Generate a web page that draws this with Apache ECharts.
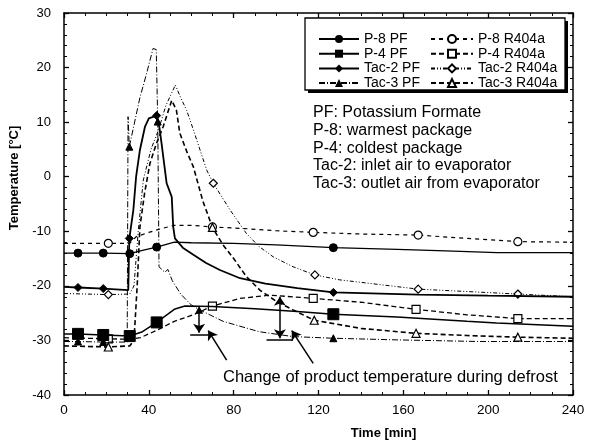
<!DOCTYPE html>
<html>
<head>
<meta charset="utf-8">
<script src="https://cdn.jsdelivr.net/npm/echarts@6/dist/echarts.min.js"></script>
<style>html,body{margin:0;padding:0;background:#fff}#c{width:590px;height:442px}</style>
</head>
<body>
<div id="c"></div>
<script>
// [time(min), temperature(°C), marker shown (1/0)]
const p8PF = [[0,-14,0],[6.6,-14,1],[18.5,-14,1],[31,-14.1,1],[37,-13.5,0],[43.7,-12.9,1],[52,-12,0],[60,-12.1,0],[80,-12.2,0],[100,-12.5,0],[127,-13,1],[157,-13.3,0],[180,-13.6,0],[204,-13.9,0],[240,-13.9,0]];
const p4PF = [[0,-28.8,0],[6.6,-28.8,1],[18.5,-29,1],[31,-29.2,1],[37,-28.4,0],[43.7,-26.7,1],[52,-24.3,0],[57,-23.7,0],[70,-23.8,0],[90,-24.2,0],[110,-24.7,0],[127,-25.2,1],[157,-25.7,0],[190,-26.5,0],[204,-26.8,0],[240,-27.4,0]];
const tac2PF = [[0,-20.2,0],[6.6,-20.3,1],[18.5,-20.5,1],[30.3,-20.8,0],[30.8,-11.3,1],[32.7,-6.1,0],[34,0,0],[35.8,4.9,0],[38.2,9.2,0],[40,10.7,0],[43.7,11.2,1],[45,9,0],[46,6.1,0],[48.4,-1.2,0],[50.8,-3.7,0],[51.5,-9.2,0],[52.3,-11.3,0],[56,-13,0],[61,-14.3,0],[67,-15.8,0],[73.5,-17.1,0],[83,-18.6,0],[95,-19.6,0],[110,-20.4,0],[127,-21.2,1],[167,-21.6,0],[200,-21.8,0],[240,-22,0]];
const tac3PF = [[0,-30.2,0],[6.6,-30.2,1],[18.5,-30.3,1],[29.8,-30.3,0],[30.2,11,0],[30.8,5.5,1],[35.8,14.5,0],[39,19,0],[42,23.5,0],[43.5,23.3,0],[44.2,10.1,1],[44.8,-16.5,0],[47.5,-17.5,0],[49,-17,0],[51,-19,0],[55,-21.5,0],[60,-23.5,0],[64,-24.4,0],[75,-26.5,0],[92,-28.4,0],[108,-29.3,0],[127,-29.6,1],[157,-29.9,0],[196,-30.2,0],[240,-30.2,0]];
const p8R = [[0,-12.2,0],[20.9,-12.2,1],[31,-12.2,0],[34,-11,0],[40,-10.2,0],[46,-9.5,0],[52,-8.9,0],[60,-8.9,0],[70,-9.2,1],[85,-9.5,0],[100,-9.9,0],[117.5,-10.2,1],[140,-10.5,0],[167,-10.7,1],[190,-11.3,0],[214,-11.9,1],[240,-12,0]];
const p4R = [[0,-29.5,0],[20.9,-29.7,1],[31,-29.8,0],[36,-29.5,0],[44,-28.1,0],[52,-26.5,0],[61,-25.3,0],[70,-23.7,1],[83,-22.3,0],[97,-21.7,0],[117.5,-22.3,1],[140,-23,0],[166,-24.3,1],[190,-25.3,0],[214,-26,1],[240,-26,0]];
const tac2R = [[0,-21.4,0],[20.9,-21.6,1],[31,-21.5,0],[33,-20,0],[35,-10,0],[37.4,-0.6,0],[41,5,0],[44.5,8.5,0],[48,13,0],[52.5,16.8,0],[55,14.5,0],[57.8,12.2,0],[61,8.6,0],[67.3,1.2,0],[70.4,-1.2,1],[78.3,-6.1,0],[86,-10.4,0],[92,-12.8,0],[98.7,-14.7,0],[108,-16.5,0],[118.3,-18,1],[130,-18.9,0],[167,-20.6,1],[214,-21.5,1],[240,-22,0]];
const tac3R = [[0,-31,0],[20.9,-31.2,1],[31,-31,0],[33,-30,0],[34.5,-20,0],[35.8,-9.2,0],[38,-3,0],[40.5,2.4,0],[43.5,6,0],[46.8,9.2,0],[50.8,14,0],[53,12.2,0],[54.6,8,0],[58,4.5,0],[61,1.8,0],[65.5,-4.5,0],[70,-9.3,1],[75,-12.5,0],[80,-15,0],[86,-18.3,0],[92.4,-20.8,0],[100,-22.8,0],[108,-24.4,0],[118,-26.3,1],[140,-27.8,0],[166,-28.7,1],[190,-29.1,0],[214,-29.4,1],[240,-29.6,0]];

const xTicks = {min:0, max:240, interval:40};
const yTicks = {min:-40, max:30, interval:10};
const names = ['P-8 PF','P-4 PF','Tac-2 PF','Tac-3 PF','P-8 R404a','P-4 R404a','Tac-2 R404a','Tac-3 R404a'];
const infoLines = ['PF: Potassium Formate','P-8: warmest package','P-4: coldest package','Tac-2: inlet air to evaporator','Tac-3: outlet air from evaporator'];
const noteText = 'Change of product temperature during defrost';

const FONT = '"Liberation Sans", Arial, sans-serif';
const chart = echarts.init(document.getElementById('c'), null, {renderer:'canvas'});

function mk(arr){ return arr.map(p => p[2] ? {value:[p[0],p[1]]} : {value:[p[0],p[1]], symbol:'none'}); }
function ser(name, arr, symbol, size, filled, lineType, width){
  return {
    name, type:'line', data: mk(arr), symbol, symbolSize:size, showAllSymbol:true,
    lineStyle:{color:'#000', width, type: lineType},
    itemStyle: filled ? {color:'#000', borderColor:'#000'} : {color:'#fff', borderColor:'#000', borderWidth:1.2},
    z: filled ? 3 : 2, animation:false
  };
}
const series = [
  ser(names[0], p8PF, 'circle', 8, true, 'solid', 1.3),
  ser(names[1], p4PF, 'rect', 11, true, 'solid', 1.5),
  ser(names[2], tac2PF, 'diamond', 8, true, 'solid', 1.8),
  ser(names[3], tac3PF, 'triangle', 7, true, [6,2,1,2], 1),
  ser(names[4], p8R, 'circle', 8, false, [4,4], 1.2),
  ser(names[5], p4R, 'rect', 8, false, [5,3], 1.3),
  ser(names[6], tac2R, 'diamond', 8, false, [4,2,1,2,1,2], 1),
  ser(names[7], tac3R, 'triangle', 8, false, [5,3], 1.6)
];
series.push({
  name:'annot', type:'line', data:[], silent:true, animation:false,
  markLine:{
    silent:true, animation:false, label:{show:false},
    lineStyle:{color:'#000', width:1.5, type:'solid'},
    data:[
      [{coord:[63.7,-24.4], symbol:'triangle', symbolSize:8},{coord:[63.7,-28.6], symbol:'arrow', symbolSize:9}],
      [{coord:[59.5,-28.9], symbol:'none'},{coord:[68,-28.9], symbol:'none'}],
      [{coord:[101.8,-22], symbol:'arrow', symbolSize:9},{coord:[101.8,-29.6], symbol:'arrow', symbolSize:9}],
      [{coord:[95.5,-29.9], symbol:'none'},{coord:[108,-29.9], symbol:'none'}],
      [{coord:[76.7,-33.6], symbol:'none'},{coord:[68,-28.2], symbol:'arrow', symbolSize:9}],
      [{coord:[117.5,-34.2], symbol:'none'},{coord:[107.4,-28.2], symbol:'arrow', symbolSize:9}]
    ]
  }
});

function axisStyle(split){
  return {
    axisLine:{show:true, onZero:false, lineStyle:{color:'#000', width:1.5}},
    axisTick:{show:true, inside:true, length:5, lineStyle:{color:'#000', width:1.3}},
    minorTick:{show:true, splitNumber:split, length:3, lineStyle:{color:'#000', width:1}},
    splitLine:{show:false}
  };
}
const legendCommon = {
  orient:'vertical', itemGap:0.7, itemHeight:10,
  textStyle:{fontFamily:FONT, fontSize:14, lineHeight:14, color:'#000'},
  selectedMode:false, z:10
};

const graphics = [
  {type:'rect', shape:{x:308, y:21, width:260, height:72}, style:{fill:'#000'}, z:0, zlevel:0},
  {type:'rect', shape:{x:305, y:18, width:260, height:72}, style:{fill:'#fff', stroke:'#000', lineWidth:1.3}, z:1, zlevel:0}
];
infoLines.forEach((t,i) => graphics.push({type:'text', x:313, y:113 + i*17.6, style:{text:t, font:'16px '+FONT, fill:'#000', textVerticalAlign:'middle'}, z:10}));
graphics.push({type:'text', x:223, y:377, style:{text:noteText, font:'16.5px '+FONT, fill:'#000', textVerticalAlign:'middle'}, z:10});

chart.setOption({
  animation:false,
  backgroundColor:'#fff',
  grid:{left:64, right:17, top:13, bottom:47, containLabel:false, outerBoundsMode:'none'},
  xAxis:[
    Object.assign({type:'value', position:'bottom', min:xTicks.min, max:xTicks.max, interval:xTicks.interval,
      axisLabel:{fontFamily:FONT, fontSize:13.5, color:'#000', margin:8},
      name:'Time [min]', nameLocation:'middle', nameGap:32,
      nameTextStyle:{fontFamily:FONT, fontSize:13, fontWeight:'bold', color:'#000', padding:[0,0,0,130]}}, axisStyle(4)),
    Object.assign({type:'value', position:'top', min:xTicks.min, max:xTicks.max, interval:xTicks.interval, axisLabel:{show:false}}, axisStyle(4))
  ],
  yAxis:[
    Object.assign({type:'value', position:'left', min:yTicks.min, max:yTicks.max, interval:yTicks.interval,
      axisLabel:{fontFamily:FONT, fontSize:13, color:'#000', margin:13},
      name:'Temperature [°C]', nameLocation:'middle', nameGap:34, nameRotate:90,
      nameTextStyle:{fontFamily:FONT, fontSize:13, fontWeight:'bold', color:'#000', padding:[0,0,0,52]}}, axisStyle(5)),
    Object.assign({type:'value', position:'right', min:yTicks.min, max:yTicks.max, interval:yTicks.interval, axisLabel:{show:false}}, axisStyle(5))
  ],
  legend:[
    Object.assign({}, legendCommon, {data:names.slice(0,4), left:313, top:27, itemWidth:40}),
    Object.assign({}, legendCommon, {data:names.slice(4), left:425, top:27, itemWidth:42})
  ],
  series,
  graphic: graphics
});
</script>
</body>
</html>
